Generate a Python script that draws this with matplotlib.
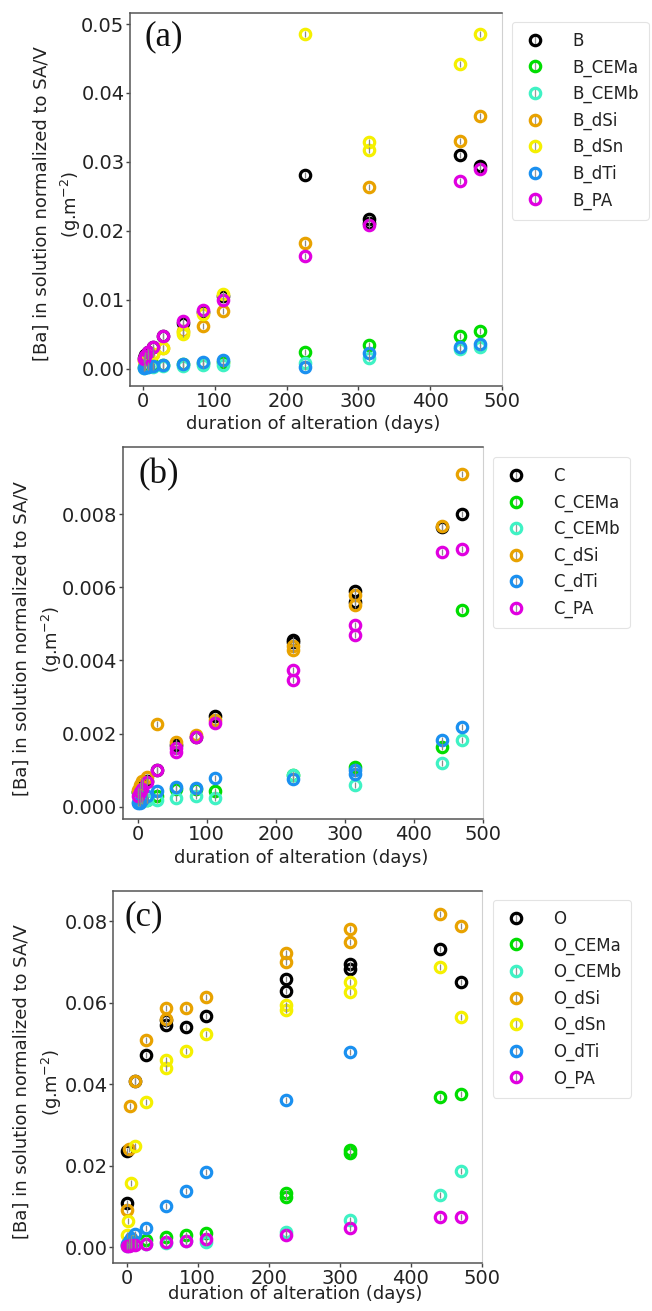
import matplotlib
matplotlib.use("Agg")
import matplotlib.pyplot as plt
from matplotlib.lines import Line2D
from matplotlib.legend_handler import HandlerTuple

plt.rcParams['font.family'] = ['DejaVu Sans']

# ---------------- data ----------------
days = [1, 3, 7, 14, 28, 56, 84, 112, 225, 315, 441, 470]

# panel (a) : glass B
a_labels = ["B", "B_CEMa", "B_CEMb", "B_dSi", "B_dSn", "B_dTi", "B_PA"]
a_B_days = days + [315]
a_B = [0.0015, 0.0020, 0.0025, 0.0032, 0.0047, 0.0066, 0.0083, 0.0105, 0.0281, 0.0217, 0.0310, 0.0294, 0.0212]
a_CEMa = [0.0003, 0.0004, 0.0005, 0.0006, 0.0006, 0.0007, 0.0008, 0.0010, 0.0024, 0.0035, 0.0047, 0.0055]
a_CEMb = [0.0001, 0.0002, 0.0002, 0.0003, 0.0004, 0.0004, 0.0005, 0.0005, 0.0009, 0.0016, 0.0028, 0.0031]
a_dSi = [0.0012, 0.0015, 0.0018, 0.0022, 0.0030, 0.0055, 0.0062, 0.0084, 0.0182, 0.0264, 0.0331, 0.0366]
a_dSn_days = days + [56, 315]
a_dSn = [0.0013, 0.0016, 0.0019, 0.0022, 0.0030, 0.0050, 0.0080, 0.0109, 0.0485, 0.0329, 0.0442, 0.0485, 0.0053, 0.0318]
a_dTi = [0.0001, 0.0002, 0.0003, 0.0004, 0.0005, 0.0007, 0.0010, 0.0013, 0.0002, 0.0023, 0.0031, 0.0036]
a_PA = [0.0014, 0.0019, 0.0025, 0.0032, 0.0048, 0.0069, 0.0085, 0.0100, 0.0164, 0.0208, 0.0272, 0.0290]

# panel (b) : glass C
b_labels = ["C", "C_CEMa", "C_CEMb", "C_dSi", "C_dTi", "C_PA"]
b_C_days = days + [225, 315]
b_C = [0.0004, 0.0005, 0.0006, 0.0007, 0.0010, 0.0017, 0.0019, 0.00248, 0.00457, 0.0059, 0.00765, 0.0080, 0.0045, 0.0056]
b_CEMa = [0.0004, 0.0003, 0.0002, 0.0002, 0.0003, 0.0005, 0.0005, 0.00043, 0.00087, 0.00109, 0.00164, 0.00538]
b_CEMb = [0.00014, 0.00015, 0.00015, 0.0002, 0.0002, 0.00025, 0.0003, 0.00025, 0.00087, 0.00061, 0.0012, 0.00182]
b_dSi_days = days + [225, 315]
b_dSi = [0.00045, 0.0006, 0.0007, 0.00082, 0.00226, 0.00178, 0.00196, 0.00237, 0.00428, 0.00551, 0.00768, 0.00908, 0.0044, 0.0058]
b_dTi_days = days + [315]
b_dTi = [0.0001, 0.0001, 0.0002, 0.0003, 0.00043, 0.00055, 0.00052, 0.00079, 0.00077, 0.0010, 0.00184, 0.00217, 0.00091]
b_PA_days = days + [56, 225, 315]
b_PA = [0.0003, 0.0004, 0.0005, 0.00068, 0.0010, 0.0016, 0.0019, 0.00228, 0.00374, 0.00497, 0.00697, 0.00704, 0.0015, 0.00346, 0.00469]

# panel (c) : glass O
c_labels = ["O", "O_CEMa", "O_CEMb", "O_dSi", "O_dSn", "O_dTi", "O_PA"]
c_days = [1, 3, 7, 12, 27, 56, 84, 112, 225, 315, 441, 470]
c_O_days = [1, 1, 12, 27, 56, 56, 84, 112, 225, 225, 315, 315, 441, 470]
c_O = [0.0108, 0.0236, 0.0408, 0.0471, 0.0545, 0.0557, 0.0541, 0.0567, 0.0658, 0.0628, 0.0694, 0.0682, 0.0731, 0.0651]
c_CEMa_days = [1, 3, 7, 12, 27, 56, 84, 112, 225, 225, 315, 315, 441, 470]
c_CEMa = [0.0005, 0.0008, 0.0010, 0.0012, 0.0018, 0.0024, 0.0030, 0.0034, 0.0132, 0.0124, 0.0239, 0.0232, 0.0368, 0.0376]
c_CEMb = [0.0003, 0.0005, 0.0006, 0.0008, 0.0008, 0.0010, 0.0014, 0.0012, 0.0038, 0.0067, 0.0128, 0.0187]
c_dSi_days = [1, 3, 5, 12, 27, 56, 56, 84, 112, 225, 225, 315, 315, 441, 470]
c_dSi = [0.0092, 0.0240, 0.0346, 0.0408, 0.0508, 0.0587, 0.0560, 0.0588, 0.0613, 0.0722, 0.0700, 0.0780, 0.0748, 0.0817, 0.0788]
c_dSn_days = [0, 2, 7, 12, 27, 56, 56, 84, 112, 225, 225, 315, 315, 441, 470]
c_dSn = [0.0030, 0.0063, 0.0157, 0.0249, 0.0357, 0.0459, 0.0439, 0.0482, 0.0524, 0.0594, 0.0582, 0.0651, 0.0627, 0.0688, 0.0564]
c_dTi_days = [1, 3, 7, 12, 27, 56, 84, 112, 225, 315]
c_dTi = [0.0008, 0.0015, 0.0022, 0.0032, 0.0048, 0.0102, 0.0138, 0.0185, 0.0361, 0.0480]
c_PA = [0.0002, 0.0003, 0.0004, 0.0006, 0.0008, 0.0012, 0.0014, 0.0020, 0.0029, 0.0048, 0.0073, 0.0075]

# ---------------- styling ----------------
COL = {"": "#000000", "CEMa": "#00dd00", "CEMb": "#3ff2c4", "dSi": "#e8a200",
       "dSn": "#f5f000", "dTi": "#1a90f0", "PA": "#e000e0"}

W, H = 652, 1311
fig = plt.figure(figsize=(W / 100, H / 100), dpi=100)


def px_axes(left, right, top, bottom):
    return fig.add_axes([left / W, 1 - bottom / H, (right - left) / W, (bottom - top) / H])


MS = 7.5
MEW = 2.3


def draw(ax, series):
    handles = []
    for lab, key, d, v in series:
        c = COL[key]
        ax.plot(d, v, linestyle="none", marker="o", ms=MS, mfc="none", mec=c, mew=MEW, zorder=3)
        ax.plot(d, v, linestyle="none", marker="|", ms=5, mec="#8a8a8a", mew=0.9, zorder=4)
        h1 = Line2D([], [], linestyle="none", marker="o", ms=MS, mfc="none", mec=c, mew=MEW)
        h2 = Line2D([], [], linestyle="none", marker="|", ms=9, mec="#9a9a9a", mew=0.9)
        handles.append((h2, h1))
    return handles


def style(ax, xlim, ylim, yticks, fmt):
    ax.set_xlim(*xlim)
    ax.set_ylim(*ylim)
    ax.set_xticks([0, 100, 200, 300, 400, 500])
    ax.set_yticks(yticks)
    ax.set_yticklabels([fmt.format(t) for t in yticks])
    ax.tick_params(axis="both", labelsize=14, colors="#444444", length=3, width=1, direction="out", pad=1)
    ax.tick_params(axis="both", labelcolor="#222222")
    for s in ["left", "bottom", "top"]:
        ax.spines[s].set_color("#555555")
        ax.spines[s].set_linewidth(1.1)
    ax.spines["right"].set_color("#d0d0d0")
    ax.spines["right"].set_linewidth(0.8)


def ylab(x1, x2, yc):
    fig.text(x1 / W, 1 - yc / H, "[Ba] in solution normalized to SA/V", rotation=90,
             ha="center", va="center", fontsize=13, color="#222222")
    fig.text(x2 / W, 1 - yc / H, "(g.m$^{-2}$)", rotation=90,
             ha="center", va="center", fontsize=13, color="#222222")


def xlab(xc, yc):
    fig.text(xc / W, 1 - yc / H, "duration of alteration (days)", ha="center", va="center",
             fontsize=13, color="#222222")


def leg(handles, labels, x, y):
    lg = fig.legend(handles, labels, loc="upper left", bbox_to_anchor=(x / W, 1 - y / H),
                    fontsize=12, frameon=True, handlelength=1.6, handletextpad=1.4,
                    labelspacing=0.5, borderpad=0.6, borderaxespad=0.0,
                    handler_map={tuple: HandlerTuple(ndivide=1)})
    lg.get_frame().set_edgecolor("#dddddd")
    lg.get_frame().set_linewidth(0.8)
    for t in lg.get_texts():
        t.set_color("#222222")
    return lg


def panel_label(txt, xc, yc):
    fig.text(xc / W, 1 - yc / H, txt, ha="center", va="center", fontsize=25,
             family="Liberation Serif", color="#111111")


# ---------- panel (a) ----------
axa = px_axes(130, 502, 13, 386)
ha = draw(axa, [
    ("B", "", a_B_days, a_B),
    ("B_CEMa", "CEMa", days, a_CEMa),
    ("B_CEMb", "CEMb", days, a_CEMb),
    ("B_dSi", "dSi", days, a_dSi),
    ("B_dSn", "dSn", a_dSn_days, a_dSn),
    ("B_dTi", "dTi", days, a_dTi),
    ("B_PA", "PA", days, a_PA),
])
style(axa, (-18, 500), (-0.0025, 0.0516), [0.0, 0.01, 0.02, 0.03, 0.04, 0.05], "{:.2f}")
leg(ha, a_labels, 512, 22)
ylab(42, 71, 204)
xlab(313, 424)
panel_label("(a)", 164, 37)

# ---------- panel (b) ----------
axb = px_axes(123, 483, 447, 819)
hb = draw(axb, [
    ("C", "", b_C_days, b_C),
    ("C_CEMa", "CEMa", days, b_CEMa),
    ("C_CEMb", "CEMb", days, b_CEMb),
    ("C_dSi", "dSi", b_dSi_days, b_dSi),
    ("C_dTi", "dTi", b_dTi_days, b_dTi),
    ("C_PA", "PA", b_PA_days, b_PA),
])
style(axb, (-21, 500), (-0.00033, 0.00983), [0.0, 0.002, 0.004, 0.006, 0.008], "{:.3f}")
leg(hb, b_labels, 493, 457)
ylab(22, 52, 639)
xlab(301, 858)
panel_label("(b)", 159, 475)

# ---------- panel (c) ----------
axc = px_axes(113, 482, 891, 1263)
hc = draw(axc, [
    ("O", "", c_O_days, c_O),
    ("O_CEMa", "CEMa", c_CEMa_days, c_CEMa),
    ("O_CEMb", "CEMb", c_days, c_CEMb),
    ("O_dSi", "dSi", c_dSi_days, c_dSi),
    ("O_dSn", "dSn", c_dSn_days, c_dSn),
    ("O_dTi", "dTi", c_dTi_days, c_dTi),
    ("O_PA", "PA", c_days, c_PA),
])
style(axc, (-19, 500), (-0.0039, 0.0874), [0.0, 0.02, 0.04, 0.06, 0.08], "{:.2f}")
leg(hc, c_labels, 493, 900)
ylab(22, 52, 1082)
xlab(295, 1294)
panel_label("(c)", 144, 917)

fig.savefig("out.png", dpi=100)
